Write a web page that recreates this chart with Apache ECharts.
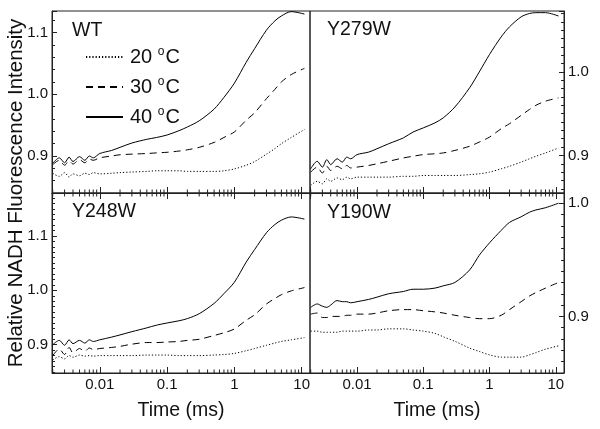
<!DOCTYPE html>
<html><head><meta charset="utf-8">
<script src="https://cdn.jsdelivr.net/npm/echarts@6/dist/echarts.min.js"></script>
<style>html,body{margin:0;padding:0;background:#fff}#c{width:600px;height:429px}</style>
</head><body><div id="c"></div>
<script>
// ---- data ----
const times = [0.002,0.0025,0.003,0.0035,0.004,0.005,0.006,0.007,0.008,0.01,0.015,0.02,0.03,0.05,0.07,0.1,0.15,0.2,0.3,0.5,0.7,1,1.5,2,3,4,5,7,11];
const minorTimes = [0.002,0.003,0.004,0.005,0.006,0.007,0.008,0.009,0.02,0.03,0.04,0.05,0.06,0.07,0.08,0.09,0.2,0.3,0.4,0.5,0.6,0.7,0.8,0.9,2,3,4,5,6,7,8,9];
const panelNames = ['WT','Y279W','Y248W','Y190W'];
const tempNames = ['20','30','40'];

const wt20 = [0.872,0.867,0.873,0.866,0.871,0.868,0.872,0.870,0.873,0.871,0.872,0.873,0.874,0.875,0.876,0.876,0.876,0.875,0.875,0.875,0.876,0.879,0.885,0.891,0.903,0.912,0.920,0.930,0.943];
const wt30 = [0.886,0.893,0.885,0.892,0.887,0.894,0.889,0.895,0.893,0.897,0.900,0.902,0.903,0.904,0.905,0.906,0.908,0.910,0.914,0.922,0.930,0.939,0.958,0.970,0.993,1.008,1.020,1.032,1.042];
const wt40 = [0.888,0.897,0.889,0.898,0.891,0.899,0.893,0.900,0.897,0.904,0.909,0.914,0.921,0.927,0.930,0.934,0.941,0.947,0.957,0.976,0.995,1.018,1.052,1.074,1.104,1.119,1.127,1.134,1.130];

const y279w20 = [0.864,0.869,0.866,0.872,0.869,0.873,0.871,0.874,0.872,0.874,0.874,0.874,0.874,0.875,0.875,0.876,0.876,0.876,0.876,0.877,0.878,0.880,0.884,0.887,0.892,0.896,0.899,0.903,0.909];
const y279w30 = [0.880,0.886,0.879,0.887,0.882,0.887,0.884,0.888,0.885,0.886,0.888,0.890,0.893,0.897,0.899,0.901,0.902,0.903,0.906,0.911,0.916,0.922,0.932,0.938,0.948,0.955,0.960,0.965,0.969];
const y279w40 = [0.884,0.893,0.886,0.895,0.889,0.896,0.892,0.898,0.896,0.901,0.904,0.908,0.914,0.921,0.928,0.933,0.939,0.945,0.958,0.981,1.000,1.021,1.042,1.054,1.066,1.070,1.071,1.071,1.067];

const y248w20 = [0.872,0.878,0.874,0.880,0.877,0.881,0.879,0.880,0.879,0.880,0.880,0.880,0.880,0.881,0.881,0.881,0.880,0.880,0.880,0.881,0.882,0.884,0.889,0.893,0.899,0.903,0.906,0.909,0.913];
const y248w30 = [0.880,0.892,0.882,0.895,0.885,0.893,0.888,0.894,0.891,0.893,0.895,0.897,0.901,0.904,0.904,0.905,0.906,0.908,0.910,0.917,0.922,0.929,0.945,0.955,0.975,0.985,0.992,0.999,1.005];
const y248w40 = [0.900,0.908,0.899,0.909,0.902,0.908,0.903,0.909,0.906,0.909,0.914,0.918,0.924,0.931,0.936,0.940,0.944,0.948,0.957,0.976,0.994,1.015,1.052,1.075,1.106,1.121,1.129,1.135,1.131];

const y190w20 = [0.887,0.887,0.886,0.886,0.886,0.886,0.887,0.887,0.887,0.887,0.888,0.888,0.889,0.889,0.888,0.887,0.885,0.882,0.878,0.872,0.869,0.866,0.864,0.864,0.864,0.866,0.868,0.871,0.874];
const y190w30 = [0.902,0.903,0.899,0.899,0.900,0.900,0.900,0.901,0.901,0.902,0.902,0.903,0.905,0.906,0.906,0.905,0.904,0.903,0.901,0.899,0.898,0.898,0.901,0.906,0.913,0.918,0.921,0.925,0.930];
const y190w40 = [0.908,0.911,0.909,0.908,0.910,0.914,0.913,0.913,0.912,0.913,0.915,0.917,0.920,0.922,0.924,0.924,0.925,0.927,0.930,0.941,0.954,0.965,0.976,0.983,0.988,0.992,0.994,0.996,1.000];

const panelData = [[wt20,wt30,wt40],[y279w20,y279w30,y279w40],[y248w20,y248w30,y248w40],[y190w20,y190w30,y190w40]];
const yMins = [0.84, 0.855, 0.848, 0.85];
const yMaxs = [1.135, 1.073, 1.179, 1.009];
const yMinorSplits = [5, 10, 10, 10];

// ---- layout / style ----
const FONT = 'Liberation Sans, Arial, Helvetica, sans-serif';
const AX = '#222';
const grids = [
  {left: 52, top: 11, width: 258, height: 182},
  {left: 310, top: 11, width: 254, height: 182},
  {left: 52, top: 193, width: 258, height: 180},
  {left: 310, top: 193, width: 254, height: 180}
].map(g => Object.assign(g, {show: true, borderColor: AX, borderWidth: 1, backgroundColor: 'transparent'}));

const X_MIN = 0.00195, X_MAX = 13.3;
function xLabelFmt(v) {
  const l = Math.log10(v), e = Math.round(l);
  if (Math.abs(l - e) > 1e-6) return '';
  return e < 0 ? Math.pow(10, e).toFixed(-e) : String(Math.pow(10, e));
}
function yLabelFmt(v) {
  return Math.abs(v * 10 - Math.round(v * 10)) < 1e-6 ? v.toFixed(1) : '';
}

const xAxes = [];
for (let i = 0; i < 4; i++) {
  const bottomRow = i >= 2;
  xAxes.push({
    type: 'log', logBase: 10, gridIndex: i, min: X_MIN, max: X_MAX, position: 'bottom',
    axisLine: {show: true, lineStyle: {color: AX, width: 1}},
    axisTick: {show: true, inside: true, length: 6, lineStyle: {color: AX}},
    splitLine: {show: false},
    axisLabel: {show: bottomRow, formatter: xLabelFmt, fontSize: 15, color: '#111', fontFamily: FONT, margin: 4, showMinLabel: false, showMaxLabel: false},
    name: bottomRow ? 'Time (ms)' : '', nameLocation: 'middle', nameGap: 28,
    nameTextStyle: {fontSize: 19.5, color: '#111', fontFamily: FONT}
  });
}
for (let i = 2; i < 4; i++) {
  xAxes.push({
    type: 'log', logBase: 10, gridIndex: i, min: X_MIN, max: X_MAX, position: 'top',
    axisLine: {show: true, lineStyle: {color: AX, width: 1}},
    axisTick: {show: true, inside: true, length: 6, lineStyle: {color: AX}},
    splitLine: {show: false}, axisLabel: {show: false}
  });
}

const yAxes = [];
for (let i = 0; i < 4; i++) {
  const right = (i % 2) === 1;
  yAxes.push({
    type: 'value', gridIndex: i, min: yMins[i], max: yMaxs[i], minInterval: 0.1, maxInterval: 0.1,
    position: right ? 'right' : 'left',
    axisLine: {show: true, lineStyle: {color: AX, width: 1}},
    axisTick: {show: true, inside: true, length: 5, lineStyle: {color: AX}},
    minorTick: {show: true, splitNumber: yMinorSplits[i], length: 3, lineStyle: {color: AX}},
    splitLine: {show: false}, minorSplitLine: {show: false},
    axisLabel: {formatter: yLabelFmt, fontSize: 15, color: '#111', fontFamily: FONT, margin: 4, showMinLabel: false, showMaxLabel: false}
  });
}

const lineTypes = [[1.2, 2], [7, 5], 'solid'];
const series = [];
for (let p = 0; p < 4; p++) {
  for (let k = 0; k < 3; k++) {
    const vals = panelData[p][k];
    series.push({
      type: 'line', name: tempNames[k], xAxisIndex: p, yAxisIndex: p,
      data: times.map((t, i) => [t, vals[i]]),
      symbol: 'none', showSymbol: false, smooth: 0.3, animation: false,
      lineStyle: {color: '#000', width: 1, type: lineTypes[k]},
      itemStyle: {color: '#000'}, z: 3
    });
  }
  const yMin = yMins[p], yMax = yMaxs[p], both = p >= 2;
  series.push({
    type: 'custom', xAxisIndex: p, yAxisIndex: p, silent: true, clip: false, animation: false, z: 5,
    data: minorTimes.map(t => [t, yMin]), encode: {x: 0, y: 1},
    renderItem: (params, api) => {
      const t = api.value(0);
      const a = api.coord([t, yMin]);
      const kids = [{type: 'line', shape: {x1: a[0], y1: a[1], x2: a[0], y2: a[1] - 3.5}, style: {stroke: AX, lineWidth: 1}}];
      if (both) {
        const b = api.coord([t, yMax]);
        kids.push({type: 'line', shape: {x1: b[0], y1: b[1], x2: b[0], y2: b[1] + 3.5}, style: {stroke: AX, lineWidth: 1}});
      }
      return {type: 'group', children: kids};
    }
  });
}

const labelPos = [[72, 21], [327, 20], [72, 202], [327, 203]];
const graphics = panelNames.map((n, i) => ({
  type: 'text', x: labelPos[i][0], y: labelPos[i][1],
  style: {text: n, fill: '#111', font: '19.5px ' + FONT}
}));
graphics.push({
  type: 'text', x: 16, y: 193, rotation: Math.PI / 2,
  style: {text: 'Relative NADH Fluorescence Intensity', font: '20.5px ' + FONT, fill: '#111', align: 'center', verticalAlign: 'middle'}
});

const option = {
  animation: false,
  textStyle: {fontFamily: FONT},
  grid: grids, xAxis: xAxes, yAxis: yAxes, series: series,
  legend: {
    data: tempNames, orient: 'vertical', left: 80, top: 41, itemWidth: 37, itemHeight: 12, itemGap: 9,
    selectedMode: false,
    itemStyle: {opacity: 0, borderWidth: 0},
    formatter: n => n + ' {s|o}C',
    textStyle: {fontSize: 20, color: '#111', fontFamily: FONT, padding: [0, 0, 0, 2],
      rich: {s: {fontSize: 12, verticalAlign: 'top', padding: [0, 1, 10, 0], fontFamily: FONT, color: '#111'}}}
  },
  graphic: graphics
};
const chart = echarts.init(document.getElementById('c'), null, {renderer: 'canvas'});
chart.setOption(option);
</script></body></html>
